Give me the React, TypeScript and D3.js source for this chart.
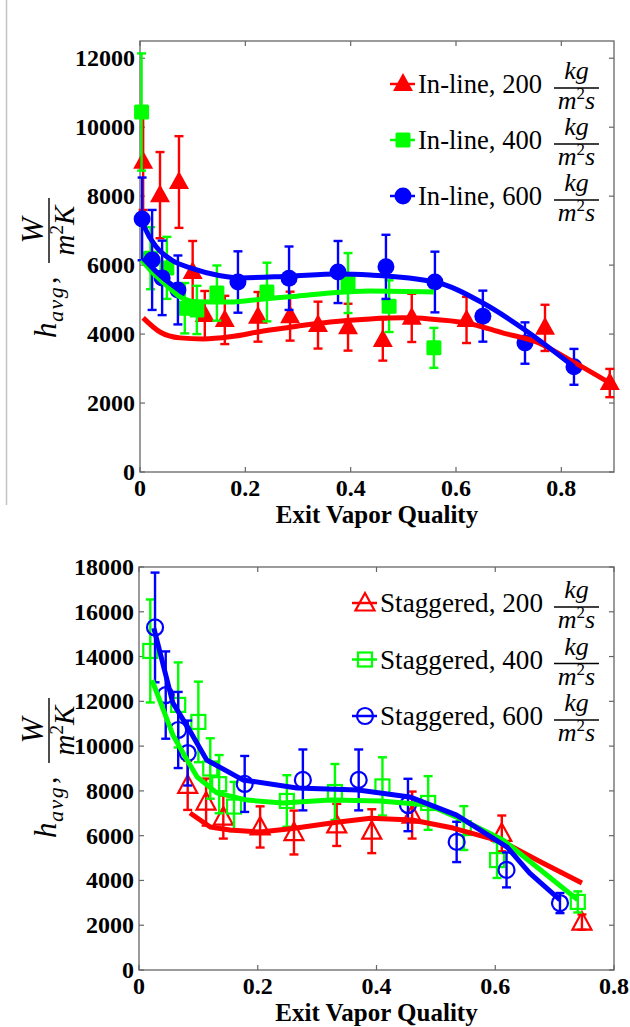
import React from "react";
import * as d3 from "d3";

// ---------------- In-line (top panel) ----------------
const inline200X = [0.006, 0.038, 0.074, 0.1, 0.123, 0.161, 0.224, 0.285, 0.338, 0.395, 0.461, 0.516, 0.62, 0.769, 0.892];
const inline200Y = [9000, 8030, 8410, 5800, 4550, 4410, 4500, 4520, 4260, 4200, 3830, 4470, 4410, 4180, 2580];
const inline200Err = [1400, 1250, 1330, 900, 700, 700, 720, 710, 680, 680, 600, 700, 670, 670, 410];

const inline400X = [0.003, 0.02, 0.051, 0.085, 0.108, 0.146, 0.241, 0.395, 0.473, 0.558];
const inline400Y = [10440, 6200, 5920, 4750, 4700, 5190, 5220, 5480, 4810, 3600];
const inline400Err = [1700, 900, 900, 730, 700, 800, 850, 870, 750, 580];

const inline600X = [0.004, 0.023, 0.042, 0.072, 0.186, 0.283, 0.376, 0.467, 0.56, 0.651, 0.731, 0.824];
const inline600Y = [7340, 6150, 5630, 5280, 5510, 5620, 5800, 5950, 5510, 4520, 3740, 3050];
const inline600Err = [1200, 1450, 1080, 1000, 890, 920, 900, 930, 880, 740, 600, 520];

const inline200FitX = [0.006, 0.038, 0.076, 0.12, 0.171, 0.234, 0.298, 0.361, 0.437, 0.5, 0.55, 0.62, 0.69, 0.753, 0.816, 0.892];
const inline200FitY = [4470, 4060, 3890, 3860, 3920, 4090, 4230, 4350, 4440, 4470, 4440, 4320, 4030, 3770, 3250, 2580];
const inline400FitX = [0.003, 0.02, 0.05, 0.076, 0.108, 0.171, 0.234, 0.298, 0.361, 0.437, 0.558];
const inline400FitY = [6150, 5850, 5420, 5080, 4940, 4930, 5020, 5100, 5190, 5250, 5220];
const inline600FitX = [0.005, 0.01, 0.03, 0.06, 0.1, 0.15, 0.19, 0.283, 0.376, 0.437, 0.56, 0.651, 0.731, 0.824];
const inline600FitY = [7250, 7050, 6550, 6150, 5900, 5700, 5630, 5680, 5740, 5710, 5510, 4900, 4120, 3050];
const inline600Fit2X = [0.006, 0.042, 0.08];
const inline600Fit2Y = [6200, 5650, 5220];

const inlineXTicks = [0, 0.2, 0.4, 0.6, 0.8];
const inlineXTickLabels = ["0", "0.2", "0.4", "0.6", "0.8"];
const inlineYTicks = [0, 2000, 4000, 6000, 8000, 10000, 12000];
const inlineYTickLabels = ["0", "2000", "4000", "6000", "8000", "10000", "12000"];

// ---------------- Staggered (bottom panel) ----------------
const stag200X = [0.082, 0.113, 0.142, 0.204, 0.261, 0.333, 0.392, 0.46, 0.611, 0.746];
const stag200Y = [8250, 7500, 6830, 6390, 6140, 6480, 6200, 6920, 6100, 2140];
const stag200Err = [1100, 1050, 960, 920, 980, 940, 980, 1050, 800, 340];

const stag400X = [0.019, 0.066, 0.1, 0.12, 0.135, 0.16, 0.249, 0.33, 0.41, 0.487, 0.547, 0.603, 0.739];
const stag400Y = [14250, 11840, 11080, 9000, 8300, 7300, 7550, 7950, 8200, 7460, 6340, 4910, 3040];
const stag400Err = [2300, 1900, 1800, 1350, 1300, 1100, 1150, 1250, 1300, 1200, 980, 800, 470];

const stag600X = [0.027, 0.045, 0.066, 0.082, 0.178, 0.276, 0.37, 0.453, 0.535, 0.619, 0.709];
const stag600Y = [15300, 12280, 10720, 9690, 8310, 8490, 8490, 7370, 5720, 4470, 2990];
const stag600Err = [2450, 1950, 1700, 1450, 1250, 1360, 1360, 1170, 900, 780, 450];

const stag200FitX = [0.086, 0.12, 0.153, 0.204, 0.259, 0.333, 0.39, 0.46, 0.529, 0.613, 0.68, 0.746];
const stag200FitY = [7010, 6390, 6250, 6160, 6320, 6600, 6780, 6700, 6340, 5720, 4780, 3890];
const stag400FitX = [0.022, 0.057, 0.081, 0.098, 0.131, 0.182, 0.242, 0.322, 0.406, 0.487, 0.535, 0.613, 0.67, 0.739];
const stag400FitY = [12950, 10500, 9380, 8620, 7910, 7590, 7460, 7590, 7550, 7370, 6830, 5810, 4600, 3130];
const stag600FitX = [0.025, 0.057, 0.082, 0.114, 0.175, 0.266, 0.369, 0.456, 0.535, 0.62, 0.658, 0.709];
const stag600FitY = [15270, 11930, 10850, 9380, 8490, 8130, 8040, 7730, 6920, 5490, 4330, 3130];

const stagXTicks = [0, 0.2, 0.4, 0.6, 0.8];
const stagXTickLabels = ["0", "0.2", "0.4", "0.6", "0.8"];
const stagYTicks = [0, 2000, 4000, 6000, 8000, 10000, 12000, 14000, 16000, 18000];
const stagYTickLabels = ["0", "2000", "4000", "6000", "8000", "10000", "12000", "14000", "16000", "18000"];

const inlineLegend = ["In-line, 200", "In-line, 400", "In-line, 600"];
const stagLegend = ["Staggered, 200", "Staggered, 400", "Staggered, 600"];
const xAxisTitle = "Exit Vapor Quality";

const RED = "#ff0000";
const GREEN = "#00ff00";
const BLUE = "#0000ff";
const FONT = "'Liberation Serif', 'Times New Roman', serif";
const AXIS = "#666666";

type Shape = "tri" | "sq" | "circ";

function zip(xs: number[], ys: number[]): [number, number][] {
  return xs.map((v, i) => [v, ys[i]] as [number, number]);
}

function Marker({ shape, cx, cy, color, filled }: { shape: Shape; cx: number; cy: number; color: string; filled: boolean }) {
  const fill = filled ? color : "none";
  const sw = filled ? 0 : 2.2;
  if (shape === "tri") {
    const pts = filled ? [[0, -11], [10, 7], [-10, 7]] : [[0, -10], [9.5, 7.5], [-9.5, 7.5]];
    return (
      <polygon
        points={pts.map((p) => `${cx + p[0]},${cy + p[1]}`).join(" ")}
        fill={fill}
        stroke={color}
        strokeWidth={sw}
        strokeLinejoin="miter"
      />
    );
  }
  if (shape === "sq") {
    const h = filled ? 7.5 : 7;
    return <rect x={cx - h} y={cy - h} width={2 * h} height={2 * h} fill={fill} stroke={color} strokeWidth={sw} rx={filled ? 1.5 : 0} />;
  }
  return <circle cx={cx} cy={cy} r={filled ? 8.5 : 8} fill={fill} stroke={color} strokeWidth={sw} />;
}

type Series = { xs: number[]; ys: number[]; err: number[]; color: string; shape: Shape };
type Fit = { xs: number[]; ys: number[]; color: string };

function YLabel({ cx, cy }: { cx: number; cy: number }) {
  return (
    <g transform={`translate(${cx},${cy}) rotate(-90)`} fontFamily={FONT} fill="#000">
      <text x={-68} y={0} fontSize={31} fontStyle="italic">h</text>
      <text x={-52} y={7} fontSize={22} fontStyle="italic" letterSpacing={1.5}>avg</text>
      <text x={-14} y={0} fontSize={30}>,</text>
      <line x1={7} x2={72} y1={-7} y2={-7} stroke="#000" strokeWidth={1.4} />
      <text x={39.5} y={-13} fontSize={31} fontStyle="italic" textAnchor="middle">W</text>
      <text x={39.5} y={18} fontSize={29} fontStyle="italic" textAnchor="middle">
        m<tspan fontSize={19} dy={-11} fontStyle="normal">2</tspan>
        <tspan dy={11}>K</tspan>
      </text>
    </g>
  );
}

function LegendItem({ mx, lineX1, lineX2, textX, textW, rowY, label, color, shape, filled }: any) {
  const my = rowY - 4;
  return (
    <g>
      <line x1={lineX1} x2={lineX2} y1={my} y2={my} stroke={color} strokeWidth={2.5} />
      <Marker shape={shape} cx={mx} cy={my} color={color} filled={filled} />
      <text x={textX} y={rowY + 5} fontFamily={FONT} fontSize={26.5} fill="#000" textLength={textW} lengthAdjust="spacingAndGlyphs">{label}</text>
      <text x={576.5} y={rowY - 9} fontFamily={FONT} fontSize={26} fontStyle="italic" textAnchor="middle" fill="#000">kg</text>
      <line x1={554} x2={599} y1={rowY} y2={rowY} stroke="#000" strokeWidth={1.3} />
      <text x={576.5} y={rowY + 21} fontFamily={FONT} fontSize={26} fontStyle="italic" textAnchor="middle" fill="#000">
        m<tspan fontSize={17} dy={-10} fontStyle="normal">2</tspan>
        <tspan dy={10}>s</tspan>
      </text>
    </g>
  );
}

function Panel(p: {
  left: number; right: number; top: number; bottom: number;
  xMax: number; yMax: number;
  xTicks: number[]; xTickLabels: string[]; yTicks: number[]; yTickLabels: string[];
  series: Series[]; fits: Fit[]; filled: boolean; curve: any;
  legend: string[]; legendRow0: number; legendRowStep: number; legendMx: number; legendTextX: number; legendTextW: number;
  yLabelCy: number;
}) {
  const x = d3.scaleLinear().domain([0, p.xMax]).range([p.left, p.right]);
  const y = d3.scaleLinear().domain([0, p.yMax]).range([p.bottom, p.top]);
  const line = d3.line<[number, number]>().x((d) => x(d[0])).y((d) => y(d[1])).curve(p.curve);
  const tl = 5;
  return (
    <g>
      {/* axes box */}
      <rect x={p.left} y={p.top} width={p.right - p.left} height={p.bottom - p.top} fill="none" stroke={AXIS} strokeWidth={1.3} />
      {p.xTicks.map((t, i) => (
        <g key={"xt" + i}>
          <line x1={x(t)} x2={x(t)} y1={p.bottom} y2={p.bottom - tl} stroke={AXIS} strokeWidth={1.2} />
          <line x1={x(t)} x2={x(t)} y1={p.top} y2={p.top + tl} stroke={AXIS} strokeWidth={1.2} />
          <text x={x(t)} y={p.bottom + 24} textAnchor="middle" fontFamily={FONT} fontWeight="bold" fontSize={24} fill="#000">
            {p.xTickLabels[i]}
          </text>
        </g>
      ))}
      {p.yTicks.map((t, i) => (
        <g key={"yt" + i}>
          <line x1={p.left} x2={p.left + tl} y1={y(t)} y2={y(t)} stroke={AXIS} strokeWidth={1.2} />
          <line x1={p.right} x2={p.right - tl} y1={y(t)} y2={y(t)} stroke={AXIS} strokeWidth={1.2} />
          <text x={p.left - 5} y={y(t) + 8} textAnchor="end" fontFamily={FONT} fontWeight="bold" fontSize={24} fill="#000">
            {p.yTickLabels[i]}
          </text>
        </g>
      ))}
      <text x={(p.left + p.right) / 2} y={p.bottom + 51} textAnchor="middle" fontFamily={FONT} fontWeight="bold" fontSize={25} fill="#000">
        {xAxisTitle}
      </text>
      <YLabel cx={56} cy={p.yLabelCy} />

      {/* error bars and markers */}
      {p.series.map((s, si) => (
        <g key={"s" + si}>
          {s.xs.map((xv, i) => {
            const px = x(xv);
            const y1 = y(s.ys[i] + s.err[i]);
            const y2 = y(s.ys[i] - s.err[i]);
            return (
              <g key={i} stroke={s.color} strokeWidth={2.4}>
                <line x1={px} x2={px} y1={y1} y2={y2} />
                <line x1={px - 4.5} x2={px + 4.5} y1={y1} y2={y1} />
                <line x1={px - 4.5} x2={px + 4.5} y1={y2} y2={y2} />
              </g>
            );
          })}
          {s.xs.map((xv, i) => (
            <Marker key={"m" + i} shape={s.shape} cx={x(xv)} cy={y(s.ys[i])} color={s.color} filled={p.filled} />
          ))}
        </g>
      ))}

      {/* fitted curves */}
      {p.fits.map((f, fi) => (
        <path key={"f" + fi} d={line(zip(f.xs, f.ys)) || ""} fill="none" stroke={f.color} strokeWidth={5} strokeLinejoin="round" strokeLinecap="butt" />
      ))}

      {/* legend */}
      {p.legend.map((lab, i) => (
        <LegendItem
          key={"l" + i}
          mx={p.legendMx}
          lineX1={p.legendMx - 13}
          lineX2={p.legendMx + 12}
          textX={p.legendTextX}
          textW={p.legendTextW}
          rowY={p.legendRow0 + i * p.legendRowStep}
          label={lab}
          color={p.series[i].color}
          shape={p.series[i].shape}
          filled={p.filled}
        />
      ))}
    </g>
  );
}

export default function App() {
  const topSeries: Series[] = [
    { xs: inline200X, ys: inline200Y, err: inline200Err, color: RED, shape: "tri" },
    { xs: inline400X, ys: inline400Y, err: inline400Err, color: GREEN, shape: "sq" },
    { xs: inline600X, ys: inline600Y, err: inline600Err, color: BLUE, shape: "circ" },
  ];
  const topFits: Fit[] = [
    { xs: inline200FitX, ys: inline200FitY, color: RED },
    { xs: inline400FitX, ys: inline400FitY, color: GREEN },
    { xs: inline600FitX, ys: inline600FitY, color: BLUE },
    { xs: inline600Fit2X, ys: inline600Fit2Y, color: BLUE },
  ];
  const botSeries: Series[] = [
    { xs: stag200X, ys: stag200Y, err: stag200Err, color: RED, shape: "tri" },
    { xs: stag400X, ys: stag400Y, err: stag400Err, color: GREEN, shape: "sq" },
    { xs: stag600X, ys: stag600Y, err: stag600Err, color: BLUE, shape: "circ" },
  ];
  const botFits: Fit[] = [
    { xs: stag200FitX, ys: stag200FitY, color: RED },
    { xs: stag400FitX, ys: stag400FitY, color: GREEN },
    { xs: stag600FitX, ys: stag600FitY, color: BLUE },
  ];
  return (
    <svg width={630} height={1027} style={{ position: "absolute", left: 0, top: 0, background: "#fff" }}>
      <rect x={0} y={0} width={630} height={1027} fill="#fff" />
      <line x1={6.5} x2={6.5} y1={0} y2={505} stroke="#c4c4c4" strokeWidth={1.5} />
      <Panel
        left={140} right={614} top={41} bottom={472}
        xMax={0.9} yMax={12500}
        xTicks={inlineXTicks} xTickLabels={inlineXTickLabels}
        yTicks={inlineYTicks} yTickLabels={inlineYTickLabels}
        series={topSeries} fits={topFits} filled={true} curve={d3.curveMonotoneX}
        legend={inlineLegend} legendRow0={88} legendRowStep={56} legendMx={403} legendTextX={418} legendTextW={124}
        yLabelCy={270}
      />
      <Panel
        left={139} right={614} top={567} bottom={970}
        xMax={0.8} yMax={18000}
        xTicks={stagXTicks} xTickLabels={stagXTickLabels}
        yTicks={stagYTicks} yTickLabels={stagYTickLabels}
        series={botSeries} fits={botFits} filled={false} curve={d3.curveLinear}
        legend={stagLegend} legendRow0={607} legendRowStep={56.5} legendMx={365} legendTextX={380} legendTextW={163}
        yLabelCy={770}
      />
    </svg>
  );
}
